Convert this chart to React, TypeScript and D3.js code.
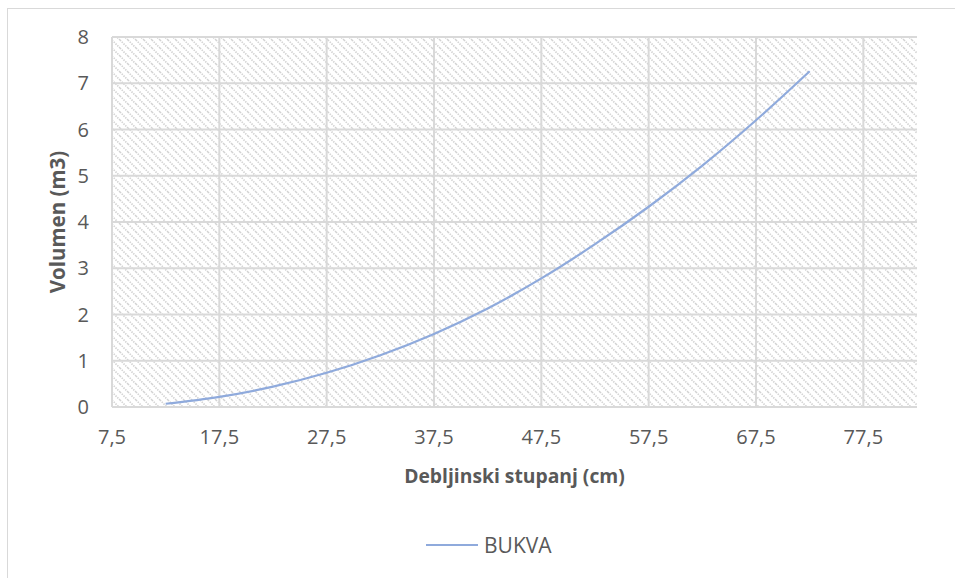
import React from "react";
import * as d3 from "d3";

const diameters = [12.5, 17.5, 22.5, 27.5, 32.5, 37.5, 42.5, 47.5, 52.5, 57.5, 62.5, 67.5, 72.5];
const bukva = [0.07, 0.22, 0.44, 0.74, 1.12, 1.58, 2.13, 2.78, 3.52, 4.33, 5.22, 6.2, 7.26];
const xTicks = [7.5, 17.5, 27.5, 37.5, 47.5, 57.5, 67.5, 77.5];
const yTicks = [0, 1, 2, 3, 4, 5, 6, 7, 8];
const seriesName = "BUKVA";
const xTitle = "Debljinski stupanj (cm)";
const yTitle = "Volumen (m3)";

const W = 955;
const H = 578;
const plot = { left: 112, right: 917, top: 37, bottom: 407 };
const font = "'Open Sans', sans-serif";

export default function App() {
  const x = d3.scaleLinear().domain([7.5, 82.5]).range([plot.left, plot.right]);
  const y = d3.scaleLinear().domain([0, 8]).range([plot.bottom, plot.top]);
  const pts: [number, number][] = diameters.map((d, i) => [d, bukva[i]]);
  const line = d3
    .line<[number, number]>()
    .x((d) => x(d[0]))
    .y((d) => y(d[1]))
    .curve(d3.curveCatmullRom.alpha(0.5));
  const fmt = (v: number) => String(v).replace(".", ",");

  return (
    <svg
      width={W}
      height={H}
      viewBox={`0 0 ${W} ${H}`}
      style={{ position: "absolute", left: 0, top: 0, background: "#fff" }}
    >
      <defs>
        <pattern id="hatch" patternUnits="userSpaceOnUse" width={8} height={8}>
          <path
            d="M-2,6 L2,10 M0,0 L8,8 M6,-2 L10,2"
            stroke="#d2d2d2"
            strokeWidth={1.7}
            strokeDasharray="1.4 1.1"
          />
        </pattern>
      </defs>
      <rect x={7.5} y={8.5} width={W + 20} height={H + 20} fill="#fff" stroke="#d9d9d9" strokeWidth={1} />
      <rect
        x={plot.left}
        y={plot.top}
        width={plot.right - plot.left}
        height={plot.bottom - plot.top}
        fill="url(#hatch)"
      />
      {yTicks.map((t) => (
        <line key={"gy" + t} x1={plot.left} x2={plot.right} y1={y(t)} y2={y(t)} stroke="#d9d9d9" strokeWidth={2} />
      ))}
      {xTicks.map((t) => (
        <line key={"gx" + t} x1={x(t)} x2={x(t)} y1={plot.top} y2={plot.bottom} stroke="#d9d9d9" strokeWidth={2} />
      ))}
      <path d={line(pts) || ""} fill="none" stroke="#8faadc" strokeWidth={2.2} />
      {yTicks.map((t) => (
        <text
          key={"ty" + t}
          x={89}
          y={y(t)}
          dy="0.35em"
          textAnchor="end"
          fontFamily={font}
          fontSize={20}
          fill="#595959"
        >
          {t}
        </text>
      ))}
      {xTicks.map((t) => (
        <text
          key={"tx" + t}
          x={x(t)}
          y={444}
          textAnchor="middle"
          fontFamily={font}
          fontSize={20}
          fill="#595959"
        >
          {fmt(t)}
        </text>
      ))}
      <text
        x={(plot.left + plot.right) / 2}
        y={483}
        textAnchor="middle"
        fontFamily={font}
        fontWeight="bold"
        fontSize={19.3}
        fill="#595959"
      >
        {xTitle}
      </text>
      <text
        transform={`translate(65,${(plot.top + plot.bottom) / 2}) rotate(-90)`}
        textAnchor="middle"
        fontFamily={font}
        fontWeight="bold"
        fontSize={20.5}
        fill="#595959"
      >
        {yTitle}
      </text>
      <line x1={426} x2={478} y1={545} y2={545} stroke="#8faadc" strokeWidth={2.2} />
      <text x={484} y={553} fontFamily={font} fontSize={21} fill="#595959">
        {seriesName}
      </text>
    </svg>
  );
}
